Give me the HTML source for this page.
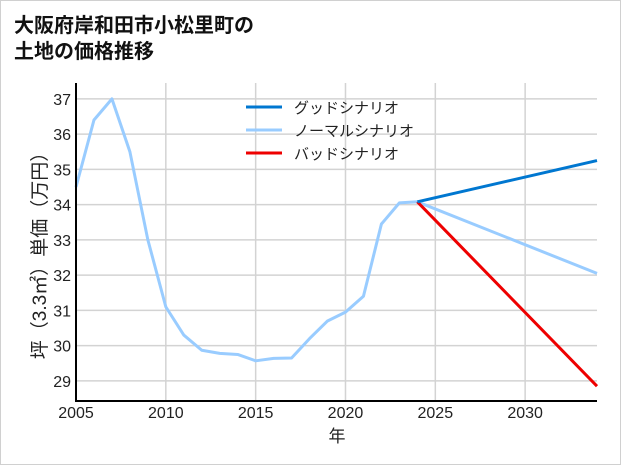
<!DOCTYPE html>
<html><head><meta charset="utf-8"><style>
body{margin:0;background:#fff;}
#wrap{position:relative;width:619px;height:463px;border:1px solid #d0d0d0;background:#fff;font-family:"Liberation Sans","Noto Sans CJK JP",sans-serif;}
#title{position:absolute;left:13px;top:10px;font-size:20px;font-weight:bold;line-height:26px;color:#111;font-family:"Noto Sans CJK JP",sans-serif;}
svg{position:absolute;left:0;top:0;}
</style></head><body>
<div id="wrap">
<div id="title">大阪府岸和田市小松里町の<br>土地の価格推移</div>
<svg id="chart" width="621" height="465"></svg>
</div>
<script>
const years=[2005,2006,2007,2008,2009,2010,2011,2012,2013,2014,2015,2016,2017,2018,2019,2020,2021,2022,2023,2024];
const normalHist=[34.5,36.4,37.0,35.5,33.0,31.1,30.3,29.87,29.78,29.75,29.57,29.64,29.65,30.2,30.7,30.95,31.4,33.45,34.05,34.08];
const projYears=[2024,2034];
const goodProj=[34.08,35.25];
const normalProj=[34.08,32.05];
const badProj=[34.08,28.85];
const yTicks=[29,30,31,32,33,34,35,36,37];
const xTicks=[2005,2010,2015,2020,2025,2030];
const legendLabels=["グッドシナリオ","ノーマルシナリオ","バッドシナリオ"];
const legendColors=["#0077d0","#99ccff","#ee0000"];

const NS="http://www.w3.org/2000/svg";
const svg=document.getElementById('chart');
const X0=75,X1=596,Y0=82,Y1=400;
const xmin=2005,xmax=2034,ymin=28.43,ymax=37.45;
const sx=v=>X0+(v-xmin)/(xmax-xmin)*(X1-X0);
const sy=v=>Y1-(v-ymin)/(ymax-ymin)*(Y1-Y0);
function mk(t,a){const e=document.createElementNS(NS,t);for(const k in a)e.setAttribute(k,a[k]);svg.appendChild(e);return e;}
const font='"Liberation Sans","Noto Sans CJK JP",sans-serif';
yTicks.forEach(v=>{
 const l=mk('line',{x1:X0,x2:X1,y1:sy(v),y2:sy(v),stroke:'#d3d3d3','stroke-width':1.5});
 
 const t=mk('text',{x:X0-5,y:sy(v)+6,'text-anchor':'end','font-size':16,fill:'#222','font-family':font});
 t.textContent=v;
});
xTicks.forEach(v=>{
 const l=mk('line',{x1:sx(v),x2:sx(v),y1:Y0,y2:Y1,stroke:'#d3d3d3','stroke-width':1.5});
 
 const t=mk('text',{x:sx(v),y:Y1+17,'text-anchor':'middle','font-size':16,fill:'#222','font-family':font});
 t.textContent=v;
});
function line(xs,ys,c,name){const p=mk('polyline',{points:xs.map((x,i)=>sx(x)+','+sy(ys[i])).join(' '),fill:'none',stroke:c,'stroke-width':3,'stroke-linejoin':'round'});
 }
line(years,normalHist,legendColors[1],'normal-history-line');
line(projYears,normalProj,legendColors[1],'normal-scenario-line');
line(projYears,badProj,legendColors[2],'bad-scenario-line');
line(projYears,goodProj,legendColors[0],'good-scenario-line');
const ax=mk('path',{d:`M${X0},${Y0} V${Y1} H${X1}`,fill:'none',stroke:'#000','stroke-width':2});

legendLabels.forEach((s,i)=>{
 const y=106+i*23;
 const l=mk('line',{x1:245,x2:281,y1:y,y2:y,stroke:legendColors[i],'stroke-width':3});
 
 const t=mk('text',{x:293,y:y+6,'font-size':15,fill:'#222','font-family':font});
 t.textContent=s;
});
const xt=mk('text',{x:336,y:441,'text-anchor':'middle','font-size':17,fill:'#222','font-family':font});
xt.textContent='年';
const yt=mk('text',{x:0,y:0,'text-anchor':'middle','font-size':19,fill:'#222','font-family':font,transform:'translate(45,250) rotate(-90)'});
yt.textContent='坪（3.3㎡）単価（万円）';
</script>
</body></html>
